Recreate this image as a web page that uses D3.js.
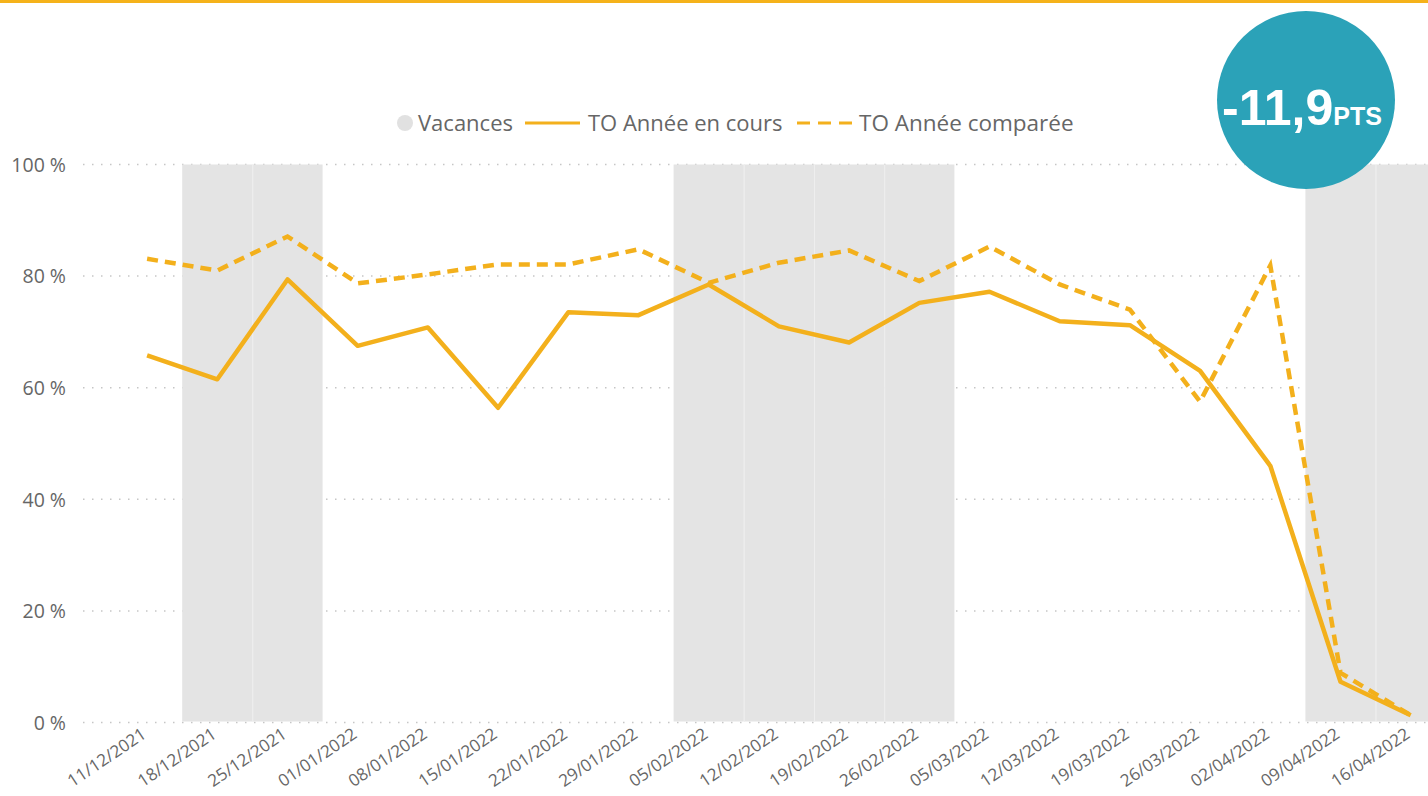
<!DOCTYPE html>
<html lang="fr">
<head>
    <meta charset="UTF-8">
    <title>TO</title>
    <script src="https://cdnjs.cloudflare.com/ajax/libs/d3/7.8.5/d3.min.js"></script>
    <style>
        body { margin: 0; background: #fff; }
        text { font-family: "Open Sans", "DejaVu Sans", sans-serif; }
    </style>
</head>
<body>
    <div id="chart"></div>
    <script>
        // semaines
        var dates = ["11/12/2021","18/12/2021","25/12/2021","01/01/2022","08/01/2022","15/01/2022",
                     "22/01/2022","29/01/2022","05/02/2022","12/02/2022","19/02/2022","26/02/2022",
                     "05/03/2022","12/03/2022","19/03/2022","26/03/2022","02/04/2022","09/04/2022","16/04/2022"];
        // TO annee en cours (%)
        var toCours = [65.8, 61.5, 79.4, 67.5, 70.8, 56.4, 73.5, 73.0, 78.5, 71.0, 68.1, 75.2,
                       77.2, 71.9, 71.2, 63.0, 46.0, 7.3, 1.3];
        // TO annee comparee (%)
        var toCompare = [83.1, 81.0, 87.1, 78.7, 80.3, 82.1, 82.1, 84.8, 78.8, 82.4, 84.6, 79.1,
                         85.3, 78.5, 74.0, 57.5, 81.9, 8.9, 1.3];
        // vacances (100 % = semaine de vacances)
        var vacances = [0, 100, 100, 0, 0, 0, 0, 0, 100, 100, 100, 100, 0, 0, 0, 0, 0, 100, 100];
        var yTicks = [0, 20, 40, 60, 80, 100];
        var ecart = "-11,9";

        var W = 1428, H = 796;
        var orange = "#F3B01C";
        var grey = "#666666";

        var svg = d3.select("#chart").append("svg")
                    .attr("width", W)
                    .attr("height", H);

        // bandeau du haut
        svg.append("rect")
            .attr("x", 0).attr("y", 0)
            .attr("width", W).attr("height", 3)
            .attr("fill", "#F5B21A");

        var x = d3.scaleBand()
                  .domain(dates)
                  .range([112, 112 + 70.2 * dates.length])
                  .padding(0);

        var y = d3.scaleLinear()
                  .domain([0, 100])
                  .range([722.5, 164.5]);

        // grille pointillee
        svg.append("g").selectAll("line")
            .data(yTicks)
            .enter().append("line")
            .attr("x1", 83)
            .attr("x2", W)
            .attr("y1", function(d) { return y(d); })
            .attr("y2", function(d) { return y(d); })
            .attr("stroke", "#c6c6c6")
            .attr("stroke-width", 1.5)
            .attr("stroke-dasharray", "1.5,7.5");

        // vacances
        var bands = svg.append("g");
        bands.selectAll("rect")
            .data(dates)
            .enter().append("rect")
            .attr("x", function(d) { return x(d); })
            .attr("width", x.bandwidth())
            .attr("y", function(d, i) { return y(vacances[i]); })
            .attr("height", function(d, i) { return y(0) - 1 - y(vacances[i]); })
            .attr("fill", "#E4E4E4");

        bands.selectAll("line")
            .data(dates.filter(function(d, i) { return i > 0 && vacances[i] > 0 && vacances[i - 1] > 0; }))
            .enter().append("line")
            .attr("x1", function(d) { return x(d) + 0.5; })
            .attr("x2", function(d) { return x(d) + 0.5; })
            .attr("y1", function(d) { return y(100); })
            .attr("y2", function(d) { return y(0) - 1; })
            .attr("stroke", "#EEEEEE")
            .attr("stroke-width", 1);

        // axe y
        var yAxis = svg.append("g")
                       .attr("transform", "translate(66,0)")
                       .call(d3.axisLeft(y).tickValues(yTicks).tickSize(0).tickPadding(0)
                               .tickFormat(function(d) { return d + " %"; }));
        yAxis.select(".domain").remove();
        yAxis.selectAll("text")
            .attr("fill", grey)
            .style("font-size", "19.5px")
            .attr("dy", "0.35em");

        // axe x
        var xAxis = svg.append("g")
                       .attr("transform", "translate(0,733)")
                       .call(d3.axisBottom(x).tickSize(0).tickPadding(0));
        xAxis.select(".domain").remove();
        xAxis.selectAll("text")
            .attr("fill", grey)
            .style("font-size", "17px")
            .attr("text-anchor", "end")
            .attr("dy", "0.35em")
            .attr("transform", "translate(-3,-1) rotate(-34)");

        // courbes
        var line = d3.line()
                     .x(function(d, i) { return x(dates[i]) + x.bandwidth() / 2; })
                     .y(function(d) { return y(d); });

        svg.append("path")
            .datum(toCompare)
            .attr("d", line)
            .attr("fill", "none")
            .attr("stroke", orange)
            .attr("stroke-width", 4.5)
            .attr("stroke-dasharray", "11,7");

        svg.append("path")
            .datum(toCours)
            .attr("d", line)
            .attr("fill", "none")
            .attr("stroke", orange)
            .attr("stroke-width", 4.5)
            .attr("stroke-linejoin", "round");

        // legende
        var lg = svg.append("g").attr("transform", "translate(0,123)");
        lg.append("circle").attr("cx", 405).attr("cy", 0).attr("r", 8).attr("fill", "#E1E1E1");
        lg.append("text").attr("x", 418).attr("y", 0).attr("dy", "0.35em")
            .attr("fill", grey).style("font-size", "22px").text("Vacances");
        lg.append("line").attr("x1", 525).attr("x2", 580).attr("y1", 0).attr("y2", 0)
            .attr("stroke", orange).attr("stroke-width", 3);
        lg.append("text").attr("x", 588).attr("y", 0).attr("dy", "0.35em")
            .attr("fill", grey).style("font-size", "22px").text("TO Année en cours");
        lg.append("line").attr("x1", 797).attr("x2", 852).attr("y1", 0).attr("y2", 0)
            .attr("stroke", orange).attr("stroke-width", 3).attr("stroke-dasharray", "13,8");
        lg.append("text").attr("x", 859).attr("y", 0).attr("dy", "0.35em")
            .attr("fill", grey).style("font-size", "22.5px").text("TO Année comparée");

        // pastille ecart
        var badge = svg.append("g").attr("transform", "translate(1306,100)");
        badge.append("circle").attr("r", 89).attr("fill", "#2BA2B8");
        var bt = badge.append("text")
                      .attr("x", -4).attr("y", 25)
                      .attr("text-anchor", "middle")
                      .attr("fill", "#fff")
                      .style("font-family", "'Liberation Sans', Arial, sans-serif")
                      .style("font-weight", "bold");
        bt.append("tspan").style("font-size", "50px").text(ecart);
        bt.append("tspan").style("font-size", "25px").text("PTS");
    </script>
</body>
</html>
